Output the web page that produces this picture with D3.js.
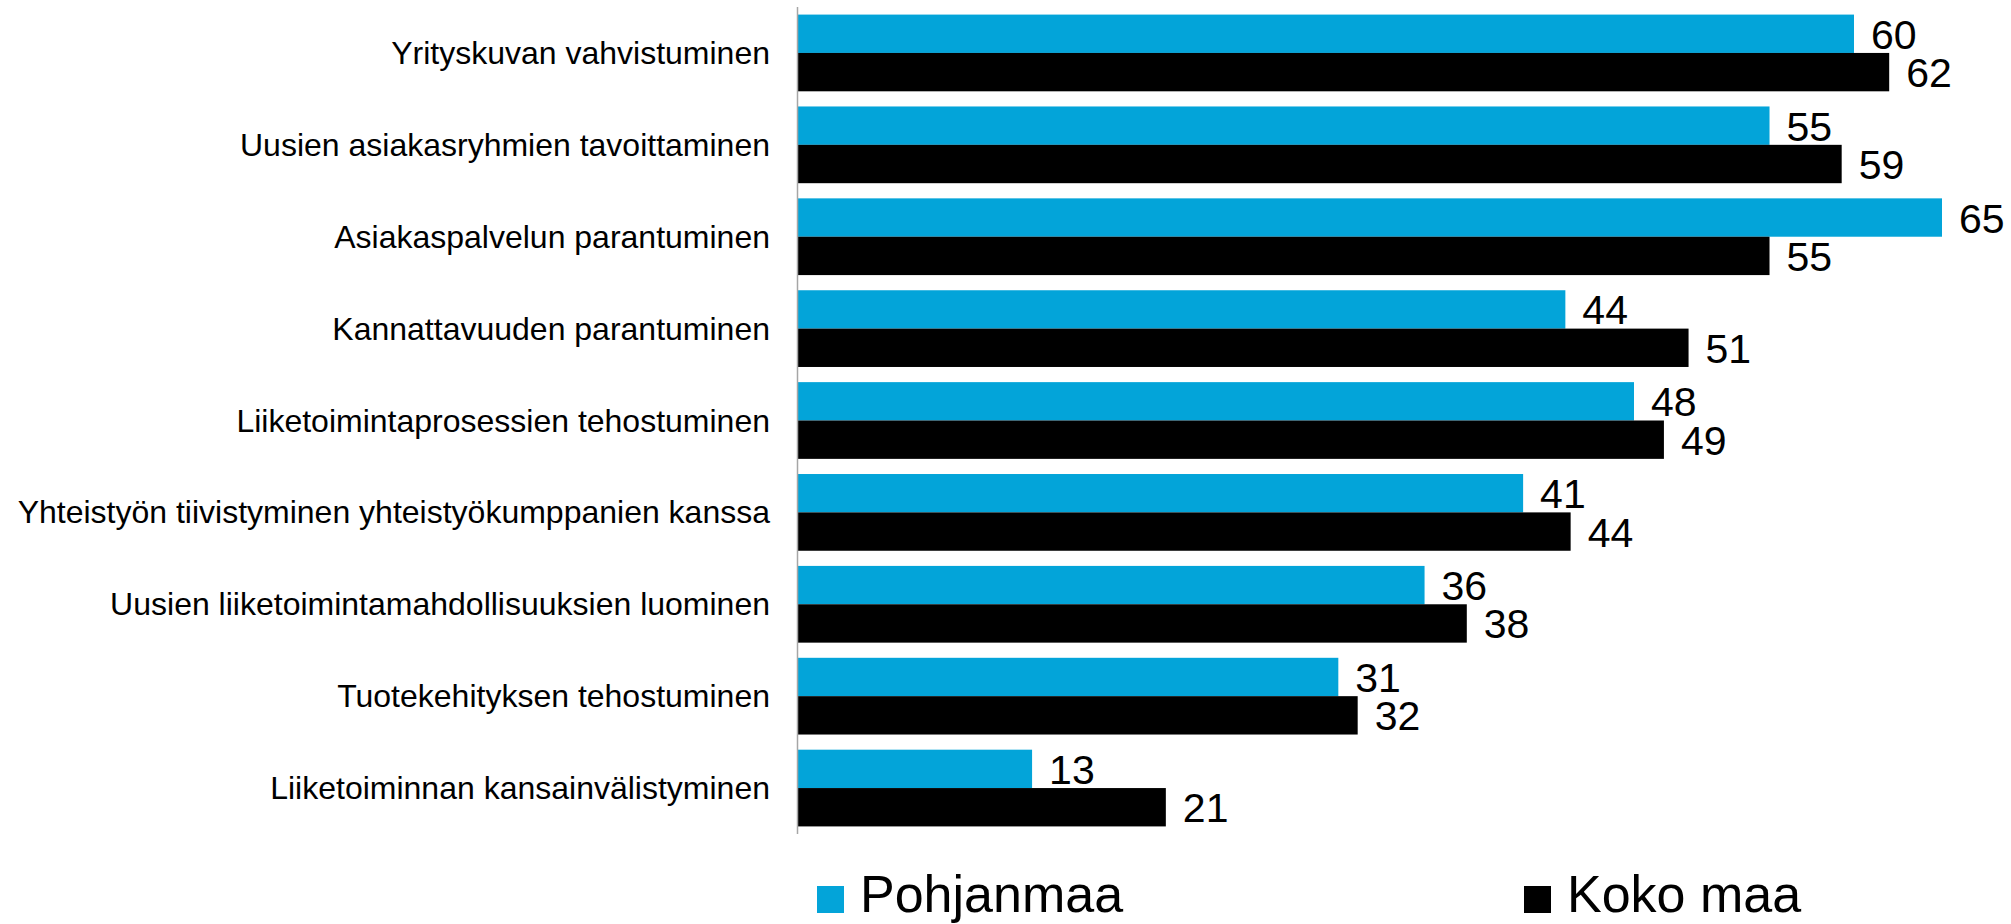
<!DOCTYPE html>
<html>
<head>
<meta charset="utf-8">
<script src="https://cdn.jsdelivr.net/npm/d3@7/dist/d3.min.js"></script>
<style>
  html, body { margin: 0; padding: 0; background: #fff; }
  svg { display: block; }
</style>
</head>
<body>
<script>
const categories = [
  "Yrityskuvan vahvistuminen",
  "Uusien asiakasryhmien tavoittaminen",
  "Asiakaspalvelun parantuminen",
  "Kannattavuuden parantuminen",
  "Liiketoimintaprosessien tehostuminen",
  "Yhteistyön tiivistyminen yhteistyökumppanien kanssa",
  "Uusien liiketoimintamahdollisuuksien luominen",
  "Tuotekehityksen tehostuminen",
  "Liiketoiminnan kansainvälistyminen"
];
const pohjanmaa = [60, 55.2, 65, 43.6, 47.5, 41.2, 35.6, 30.7, 13.3];
const kokoMaa   = [62, 59.3, 55.2, 50.6, 49.2, 43.9, 38, 31.8, 20.9];
const seriesNames = ["Pohjanmaa", "Koko maa"];
const seriesColors = ["#03a4d9", "#000000"];

const W = 2011, H = 924;
const FONT = "Liberation Sans, Arial, sans-serif";
const svg = d3.select("body").append("svg").attr("width", W).attr("height", H);
svg.append("rect").attr("width", W).attr("height", H).attr("fill", "#fff");

const x = d3.scaleLinear().domain([0, 70]).range([798, 798 + 70 * 17.6]);
const y = d3.scaleBand().domain(categories).range([7, 834]).paddingInner(0.165).paddingOuter(0.0825);
const sub = d3.scaleBand().domain(seriesNames).range([0, y.bandwidth()]);

const series = [pohjanmaa, kokoMaa];
const fmt = d3.format(".0f");

series.forEach((vals, si) => {
  const g = svg.append("g");
  g.selectAll("rect").data(vals).join("rect")
    .attr("x", x(0))
    .attr("y", (d, i) => y(categories[i]) + sub(seriesNames[si]))
    .attr("width", d => x(d) - x(0))
    .attr("height", sub.bandwidth())
    .attr("fill", seriesColors[si]);
  g.selectAll("text").data(vals).join("text")
    .attr("x", d => x(d) + 17)
    .attr("y", (d, i) => y(categories[i]) + sub(seriesNames[si]) + sub.bandwidth() / 2 + 15)
    .attr("font-family", FONT)
    .attr("font-size", 41)
    .attr("fill", "#000")
    .text(d => fmt(d));
});

// category labels
svg.append("g").selectAll("text").data(categories).join("text")
  .attr("x", 770)
  .attr("y", d => y(d) + y.bandwidth() / 2 + 11)
  .attr("text-anchor", "end")
  .attr("font-family", FONT)
  .attr("font-size", 32)
  .attr("fill", "#000")
  .text(d => d);

// axis line
svg.append("line")
  .attr("x1", 797.5).attr("x2", 797.5)
  .attr("y1", y.range()[0]).attr("y2", y.range()[1])
  .attr("stroke", "#a6a6a6").attr("stroke-width", 1.5);

// legend
const legendX = [817, 1524];
const lg = svg.append("g").selectAll("g").data(seriesNames).join("g")
  .attr("transform", (d, i) => `translate(${legendX[i]},0)`);
lg.append("rect").attr("x", 0).attr("y", 886).attr("width", 27).attr("height", 27)
  .attr("fill", (d, i) => seriesColors[i]);
lg.append("text").attr("x", 43).attr("y", 912)
  .attr("font-family", FONT)
  .attr("font-size", 52)
  .attr("fill", "#000")
  .text(d => d);
</script>
</body>
</html>
